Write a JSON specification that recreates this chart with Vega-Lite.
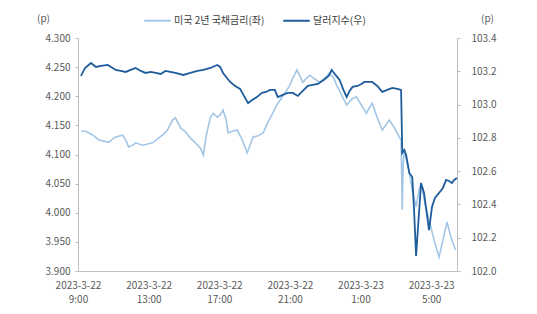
{
  "$schema": "https://vega.github.io/schema/vega-lite/v6.json",
  "width": 379,
  "height": 233,
  "autosize": {"type": "none"},
  "padding": {"left": 78, "top": 38, "right": 80, "bottom": 43},
  "background": "white",
  "config": {
    "font": "Noto Sans CJK KR",
    "view": {"stroke": null},
    "axis": {
      "labelFont": "Noto Sans CJK KR",
      "labelFontSize": 10,
      "labelColor": "#595959",
      "domainColor": "#BFBFBF",
      "tickColor": "#BFBFBF",
      "grid": false,
      "tickSize": 3,
      "titleFont": "Noto Sans CJK KR",
      "titleFontSize": 10,
      "titleFontWeight": "normal",
      "titleColor": "#595959"
    }
  },
  "datasets": {
    "bond": [
      {"t": "2023-03-22T09:10", "v": 4.140},
      {"t": "2023-03-22T09:27", "v": 4.140},
      {"t": "2023-03-22T09:37", "v": 4.137},
      {"t": "2023-03-22T09:54", "v": 4.132},
      {"t": "2023-03-22T10:11", "v": 4.125},
      {"t": "2023-03-22T10:28", "v": 4.123},
      {"t": "2023-03-22T10:45", "v": 4.121},
      {"t": "2023-03-22T10:58", "v": 4.127},
      {"t": "2023-03-22T11:08", "v": 4.130},
      {"t": "2023-03-22T11:32", "v": 4.133},
      {"t": "2023-03-22T11:42", "v": 4.125},
      {"t": "2023-03-22T11:52", "v": 4.113},
      {"t": "2023-03-22T12:06", "v": 4.116},
      {"t": "2023-03-22T12:16", "v": 4.120},
      {"t": "2023-03-22T12:40", "v": 4.116},
      {"t": "2023-03-22T12:57", "v": 4.118},
      {"t": "2023-03-22T13:14", "v": 4.120},
      {"t": "2023-03-22T13:34", "v": 4.128},
      {"t": "2023-03-22T13:51", "v": 4.135},
      {"t": "2023-03-22T14:04", "v": 4.142},
      {"t": "2023-03-22T14:21", "v": 4.159},
      {"t": "2023-03-22T14:31", "v": 4.163},
      {"t": "2023-03-22T14:48", "v": 4.146},
      {"t": "2023-03-22T15:05", "v": 4.139},
      {"t": "2023-03-22T15:22", "v": 4.128},
      {"t": "2023-03-22T15:39", "v": 4.120},
      {"t": "2023-03-22T15:56", "v": 4.111},
      {"t": "2023-03-22T16:06", "v": 4.099},
      {"t": "2023-03-22T16:16", "v": 4.133},
      {"t": "2023-03-22T16:30", "v": 4.164},
      {"t": "2023-03-22T16:40", "v": 4.171},
      {"t": "2023-03-22T16:53", "v": 4.164},
      {"t": "2023-03-22T17:03", "v": 4.168},
      {"t": "2023-03-22T17:13", "v": 4.176},
      {"t": "2023-03-22T17:24", "v": 4.159},
      {"t": "2023-03-22T17:30", "v": 4.137},
      {"t": "2023-03-22T17:44", "v": 4.140},
      {"t": "2023-03-22T18:01", "v": 4.142},
      {"t": "2023-03-22T18:18", "v": 4.125},
      {"t": "2023-03-22T18:35", "v": 4.103},
      {"t": "2023-03-22T18:45", "v": 4.116},
      {"t": "2023-03-22T18:55", "v": 4.130},
      {"t": "2023-03-22T19:12", "v": 4.132},
      {"t": "2023-03-22T19:29", "v": 4.137},
      {"t": "2023-03-22T19:46", "v": 4.156},
      {"t": "2023-03-22T20:02", "v": 4.171},
      {"t": "2023-03-22T20:19", "v": 4.188},
      {"t": "2023-03-22T20:36", "v": 4.200},
      {"t": "2023-03-22T20:50", "v": 4.211},
      {"t": "2023-03-22T21:00", "v": 4.219},
      {"t": "2023-03-22T21:10", "v": 4.231},
      {"t": "2023-03-22T21:24", "v": 4.245},
      {"t": "2023-03-22T21:34", "v": 4.235},
      {"t": "2023-03-22T21:44", "v": 4.224},
      {"t": "2023-03-22T21:57", "v": 4.231},
      {"t": "2023-03-22T22:08", "v": 4.236},
      {"t": "2023-03-22T22:24", "v": 4.230},
      {"t": "2023-03-22T22:41", "v": 4.224},
      {"t": "2023-03-22T22:58", "v": 4.231},
      {"t": "2023-03-22T23:15", "v": 4.240},
      {"t": "2023-03-22T23:29", "v": 4.231},
      {"t": "2023-03-22T23:39", "v": 4.219},
      {"t": "2023-03-22T23:56", "v": 4.202},
      {"t": "2023-03-23T00:13", "v": 4.185},
      {"t": "2023-03-23T00:30", "v": 4.195},
      {"t": "2023-03-23T00:46", "v": 4.199},
      {"t": "2023-03-23T01:03", "v": 4.185},
      {"t": "2023-03-23T01:20", "v": 4.171},
      {"t": "2023-03-23T01:30", "v": 4.180},
      {"t": "2023-03-23T01:40", "v": 4.188},
      {"t": "2023-03-23T01:57", "v": 4.163},
      {"t": "2023-03-23T02:14", "v": 4.142},
      {"t": "2023-03-23T02:28", "v": 4.152},
      {"t": "2023-03-23T02:38", "v": 4.159},
      {"t": "2023-03-23T02:55", "v": 4.146},
      {"t": "2023-03-23T03:12", "v": 4.130},
      {"t": "2023-03-23T03:18", "v": 4.125},
      {"t": "2023-03-23T03:22", "v": 4.005},
      {"t": "2023-03-23T03:25", "v": 4.082},
      {"t": "2023-03-23T03:29", "v": 4.108},
      {"t": "2023-03-23T03:39", "v": 4.085},
      {"t": "2023-03-23T03:46", "v": 4.068},
      {"t": "2023-03-23T03:56", "v": 4.039},
      {"t": "2023-03-23T04:09", "v": 4.010},
      {"t": "2023-03-23T04:19", "v": 4.039},
      {"t": "2023-03-23T04:26", "v": 4.051},
      {"t": "2023-03-23T04:40", "v": 4.013},
      {"t": "2023-03-23T04:53", "v": 3.988},
      {"t": "2023-03-23T05:10", "v": 3.953},
      {"t": "2023-03-23T05:27", "v": 3.924},
      {"t": "2023-03-23T05:40", "v": 3.953},
      {"t": "2023-03-23T05:54", "v": 3.984},
      {"t": "2023-03-23T06:08", "v": 3.957},
      {"t": "2023-03-23T06:18", "v": 3.943},
      {"t": "2023-03-23T06:24", "v": 3.936}
    ],
    "dxy": [
      {"t": "2023-03-22T09:10", "v": 103.172},
      {"t": "2023-03-22T09:24", "v": 103.220},
      {"t": "2023-03-22T09:44", "v": 103.250},
      {"t": "2023-03-22T10:01", "v": 103.226},
      {"t": "2023-03-22T10:18", "v": 103.232},
      {"t": "2023-03-22T10:41", "v": 103.238},
      {"t": "2023-03-22T10:58", "v": 103.220},
      {"t": "2023-03-22T11:08", "v": 103.208},
      {"t": "2023-03-22T11:25", "v": 103.202},
      {"t": "2023-03-22T11:42", "v": 103.196},
      {"t": "2023-03-22T11:59", "v": 103.208},
      {"t": "2023-03-22T12:16", "v": 103.220},
      {"t": "2023-03-22T12:33", "v": 103.202},
      {"t": "2023-03-22T12:50", "v": 103.190},
      {"t": "2023-03-22T13:07", "v": 103.196},
      {"t": "2023-03-22T13:24", "v": 103.190},
      {"t": "2023-03-22T13:41", "v": 103.184},
      {"t": "2023-03-22T13:57", "v": 103.202},
      {"t": "2023-03-22T14:14", "v": 103.196},
      {"t": "2023-03-22T14:31", "v": 103.190},
      {"t": "2023-03-22T14:58", "v": 103.178},
      {"t": "2023-03-22T15:22", "v": 103.190},
      {"t": "2023-03-22T15:46", "v": 103.202},
      {"t": "2023-03-22T16:06", "v": 103.208},
      {"t": "2023-03-22T16:30", "v": 103.220},
      {"t": "2023-03-22T16:53", "v": 103.238},
      {"t": "2023-03-22T17:03", "v": 103.226},
      {"t": "2023-03-22T17:13", "v": 103.190},
      {"t": "2023-03-22T17:37", "v": 103.136},
      {"t": "2023-03-22T17:54", "v": 103.112},
      {"t": "2023-03-22T18:11", "v": 103.094},
      {"t": "2023-03-22T18:24", "v": 103.052},
      {"t": "2023-03-22T18:38", "v": 103.009},
      {"t": "2023-03-22T18:52", "v": 103.027},
      {"t": "2023-03-22T19:08", "v": 103.045},
      {"t": "2023-03-22T19:25", "v": 103.070},
      {"t": "2023-03-22T19:39", "v": 103.076},
      {"t": "2023-03-22T19:52", "v": 103.088},
      {"t": "2023-03-22T20:09", "v": 103.088},
      {"t": "2023-03-22T20:19", "v": 103.045},
      {"t": "2023-03-22T20:36", "v": 103.058},
      {"t": "2023-03-22T20:53", "v": 103.070},
      {"t": "2023-03-22T21:10", "v": 103.070},
      {"t": "2023-03-22T21:27", "v": 103.052},
      {"t": "2023-03-22T21:44", "v": 103.082},
      {"t": "2023-03-22T22:01", "v": 103.112},
      {"t": "2023-03-22T22:18", "v": 103.118},
      {"t": "2023-03-22T22:35", "v": 103.124},
      {"t": "2023-03-22T22:55", "v": 103.148},
      {"t": "2023-03-22T23:12", "v": 103.172},
      {"t": "2023-03-22T23:22", "v": 103.208},
      {"t": "2023-03-22T23:35", "v": 103.178},
      {"t": "2023-03-22T23:49", "v": 103.148},
      {"t": "2023-03-23T00:02", "v": 103.088},
      {"t": "2023-03-23T00:13", "v": 103.045},
      {"t": "2023-03-23T00:23", "v": 103.082},
      {"t": "2023-03-23T00:33", "v": 103.106},
      {"t": "2023-03-23T00:50", "v": 103.112},
      {"t": "2023-03-23T01:03", "v": 103.124},
      {"t": "2023-03-23T01:13", "v": 103.136},
      {"t": "2023-03-23T01:27", "v": 103.136},
      {"t": "2023-03-23T01:40", "v": 103.136},
      {"t": "2023-03-23T01:57", "v": 103.112},
      {"t": "2023-03-23T02:14", "v": 103.076},
      {"t": "2023-03-23T02:31", "v": 103.088},
      {"t": "2023-03-23T02:48", "v": 103.100},
      {"t": "2023-03-23T03:05", "v": 103.094},
      {"t": "2023-03-23T03:18", "v": 103.088},
      {"t": "2023-03-23T03:22", "v": 102.709},
      {"t": "2023-03-23T03:29", "v": 102.727},
      {"t": "2023-03-23T03:35", "v": 102.697},
      {"t": "2023-03-23T03:46", "v": 102.589},
      {"t": "2023-03-23T03:56", "v": 102.565},
      {"t": "2023-03-23T04:02", "v": 102.367},
      {"t": "2023-03-23T04:09", "v": 102.090},
      {"t": "2023-03-23T04:16", "v": 102.276},
      {"t": "2023-03-23T04:26", "v": 102.529},
      {"t": "2023-03-23T04:36", "v": 102.469},
      {"t": "2023-03-23T04:46", "v": 102.336},
      {"t": "2023-03-23T04:53", "v": 102.246},
      {"t": "2023-03-23T05:03", "v": 102.385},
      {"t": "2023-03-23T05:13", "v": 102.439},
      {"t": "2023-03-23T05:27", "v": 102.469},
      {"t": "2023-03-23T05:40", "v": 102.499},
      {"t": "2023-03-23T05:51", "v": 102.547},
      {"t": "2023-03-23T06:01", "v": 102.541},
      {"t": "2023-03-23T06:11", "v": 102.529},
      {"t": "2023-03-23T06:18", "v": 102.547},
      {"t": "2023-03-23T06:28", "v": 102.559}
    ]
  },
  "layer": [
    {
      "data": {"name": "bond"},
      "mark": {"type": "line", "strokeWidth": 1.6},
      "encoding": {
        "x": {
          "field": "t",
          "type": "temporal",
          "scale": {"domain": [{"year": 2023, "month": 3, "date": 22, "hours": 9, "minutes": 0}, {"year": 2023, "month": 3, "date": 23, "hours": 6, "minutes": 28}]},
          "axis": {
            "title": null,
            "ticks": false,
            "values": [
              {"year": 2023, "month": 3, "date": 22, "hours": 9},
              {"year": 2023, "month": 3, "date": 22, "hours": 13},
              {"year": 2023, "month": 3, "date": 22, "hours": 17},
              {"year": 2023, "month": 3, "date": 22, "hours": 21},
              {"year": 2023, "month": 3, "date": 23, "hours": 1},
              {"year": 2023, "month": 3, "date": 23, "hours": 5}
            ],
            "labelExpr": "[timeFormat(datum.value, '%Y-%-m-%-d'), timeFormat(datum.value, '%-H:%M')]",
            "labelLineHeight": 14,
            "labelPadding": 9,
            "labelOverlap": false,
            "labelBound": false,
            "labelFlush": false
          }
        },
        "y": {
          "field": "v",
          "type": "quantitative",
          "scale": {"domain": [3.9, 4.3], "nice": false, "zero": false},
          "axis": {
            "orient": "left",
            "values": [3.9, 3.95, 4.0, 4.05, 4.1, 4.15, 4.2, 4.25, 4.3],
            "format": ".3f",
            "labelPadding": 5,
            "title": "(p)",
            "titleAngle": 0,
            "titleX": -35,
            "titleY": -20,
            "titleAlign": "center",
            "titleBaseline": "middle"
          }
        },
        "color": {
          "datum": "미국 2년 국채금리(좌)",
          "type": "nominal",
          "scale": {"domain": ["미국 2년 국채금리(좌)", "달러지수(우)"], "range": ["#A3C6E6", "#1F5C9C"]},
          "legend": {
            "title": null,
            "orient": "none",
            "direction": "horizontal",
            "legendX": 65,
            "legendY": -32,
            "symbolType": "stroke",
            "symbolSize": 700,
            "symbolStrokeWidth": 2,
            "labelFont": "Noto Sans CJK KR",
            "labelFontSize": 10,
            "labelColor": "#404040",
            "labelOffset": 2,
            "columnPadding": 14
          }
        }
      }
    },
    {
      "data": {"name": "dxy"},
      "mark": {"type": "line", "strokeWidth": 1.8},
      "encoding": {
        "x": {"field": "t", "type": "temporal"},
        "y": {
          "field": "v",
          "type": "quantitative",
          "scale": {"domain": [102.0, 103.4], "nice": false, "zero": false},
          "axis": {
            "orient": "right",
            "values": [102.0, 102.2, 102.4, 102.6, 102.8, 103.0, 103.2, 103.4],
            "format": ".1f",
            "labelPadding": 11,
            "title": "(p)",
            "titleAngle": 0,
            "titleX": 30,
            "titleY": -20,
            "titleAlign": "center",
            "titleBaseline": "middle"
          }
        },
        "color": {"datum": "달러지수(우)", "type": "nominal"}
      }
    }
  ],
  "resolve": {"scale": {"y": "independent"}}
}
